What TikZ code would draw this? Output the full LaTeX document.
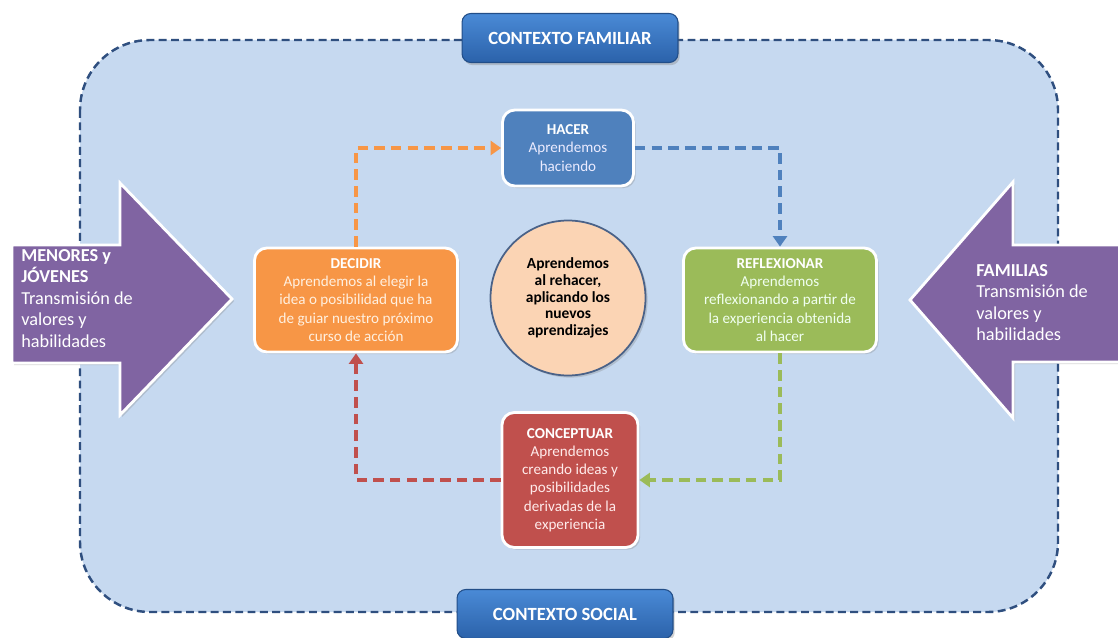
\documentclass[tikz,border=0pt]{standalone}
\usepackage{fontspec}
\setmainfont{Carlito}
\usetikzlibrary{arrows.meta,shadows}
\definecolor{frameblue}{HTML}{2F4F7F}
\definecolor{bgblue}{HTML}{C6D9F0}
\definecolor{ctxtop}{HTML}{4A8AD6}
\definecolor{ctxbot}{HTML}{2B62AA}
\definecolor{hacerblue}{HTML}{4F81BD}
\definecolor{decidirorange}{HTML}{F79646}
\definecolor{reflexgreen}{HTML}{9BBB59}
\definecolor{concepred}{HTML}{C0504D}
\definecolor{armpurple}{HTML}{8064A2}
\definecolor{peach}{HTML}{FBD4B4}
\definecolor{ringblue}{HTML}{4A6288}
\tikzset{
	stage/.style={draw=white, line width=1.6pt, rounded corners=7pt, align=center, inner sep=2pt,
		drop shadow={opacity=0.3, shadow xshift=1.2pt, shadow yshift=-1.2pt},
		font=\fontsize{8.6}{10.4}\selectfont},
	ctxbox/.style={draw=ctxbot!80!black, line width=0.6pt, rounded corners=5pt, top color=ctxtop, bottom color=ctxbot,
		minimum width=4.32cm, minimum height=0.98cm, text=white, font=\fontsize{10.6}{12}\selectfont\bfseries,
		drop shadow={opacity=0.35, shadow xshift=1pt, shadow yshift=-1.5pt}},
	armtext/.style={align=left, inner sep=0pt, text=white, font=\fontsize{10.4}{12.2}\selectfont},
	loopline/.style={line width=2pt, dash pattern=on 6pt off 3.5pt, -{Triangle[length=6pt,width=8pt]}},
}

\begin{document}
\begin{tikzpicture}[x=0.02cm, y=-0.02cm]
			%%%%% START %%%%%
			\useasboundingbox (0,0) rectangle (1118,638);
			\fill[white] (0,0) rectangle (1118,638);
			
			% frame
			\draw[frameblue, fill=bgblue, line width=1.4pt, dash pattern=on 4.5pt off 2.5pt, rounded corners=1.4cm] (80,40) rectangle (1058,612);
			
			% context labels
			\node[ctxbox] (familiar) at (570,38) {CONTEXTO FAMILIAR};
			\node[ctxbox] (social) at (565,614) {CONTEXTO SOCIAL};
			
			% side arrows
			\draw[fill=armpurple, line width=1.6pt, draw=white, drop shadow={opacity=0.3, shadow xshift=1.2pt, shadow yshift=-1.2pt}]
				(12,245) -- (120,245) -- (120,183) -- (232,299) -- (120,415) -- (120,363) -- (12,363) -- cycle;
			\draw[fill=armpurple, line width=1.6pt, draw=white, drop shadow={opacity=0.3, shadow xshift=1.2pt, shadow yshift=-1.2pt}]
				(1130,245) -- (1013,245) -- (1013,182) -- (910,300) -- (1013,418) -- (1013,362) -- (1130,362) -- cycle;
			\node[armtext, anchor=north west] (menores) at (21,249) {\textbf{MENORES y}\\\textbf{JÓVENES}\\Transmisión de\\valores y\\habilidades};
			\node[armtext, anchor=north west] (familias) at (976,264) {\textbf{FAMILIAS}\\Transmisión de\\valores y\\habilidades};
			
			% cycle
			\node[stage, fill=hacerblue, text=blue!8!white, minimum width=2.62cm, minimum height=1.52cm] (hacer) at (568,148)
				{\textcolor{white}{\textbf{HACER}}\\Aprendemos\\haciendo};
			\node[stage, fill=decidirorange, text=orange!12!white, minimum width=4.06cm, minimum height=2.08cm] (decidir) at (356,300)
				{\textcolor{white}{\textbf{DECIDIR}}\\Aprendemos al elegir la\\idea o posibilidad que ha\\de guiar nuestro próximo\\curso de acción};
			\node[stage, fill=reflexgreen, text=green!6!white, minimum width=3.86cm, minimum height=2.08cm] (reflexionar) at (780,300)
				{\textcolor{white}{\textbf{REFLEXIONAR}}\\Aprendemos\\reflexionando a partir de\\la experiencia obtenida\\al hacer};
			\node[stage, fill=concepred, text=red!8!white, minimum width=2.72cm, minimum height=2.7cm] (conceptuar) at (570,480)
				{\textcolor{white}{\textbf{CONCEPTUAR}}\\Aprendemos\\creando ideas y\\posibilidades\\derivadas de la\\experiencia};
			\node[circle, draw=ringblue, line width=1pt, fill=peach, minimum size=3.1cm, align=center, inner sep=0pt,
				drop shadow={opacity=0.3, shadow xshift=1.2pt, shadow yshift=-1.2pt},
				font=\fontsize{8.8}{9.6}\selectfont\bfseries] (rehacer) at (568,298)
				{Aprendemos\\al rehacer,\\aplicando los\\nuevos\\aprendizajes};
			
			\draw[loopline, decidirorange] (decidir.north) |- (hacer.west);
			\draw[loopline, hacerblue] (hacer.east) -| (reflexionar.north);
			\draw[loopline, reflexgreen] (reflexionar.south) |- (conceptuar.east);
			\draw[loopline, concepred] (conceptuar.west) -| (decidir.south);
			
			%%%%% END %%%%%
\end{tikzpicture}
\end{document}
